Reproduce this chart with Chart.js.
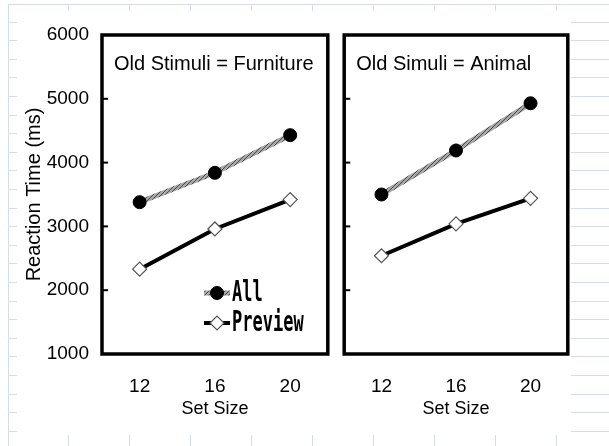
<!DOCTYPE html>
<html>
<head>
<meta charset="utf-8">
<script src="https://cdn.jsdelivr.net/npm/chart.js@4/dist/chart.umd.min.js"></script>
<style>
  html, body { margin: 0; padding: 0; background: #fff; }
  #page { position: relative; width: 609px; height: 446px; overflow: hidden; }
  .bg { position: absolute; }
  .vline { left: 8px; top: 4px; width: 1px; height: 442px; background: #d5dcea; }
  .hline { left: 8px; top: 4px; width: 601px; height: 1px; background: #d5dcea; }
  .ticksL { left: 8px; top: 4px; width: 9px; height: 442px;
    background: repeating-linear-gradient(to bottom, transparent 0 17.6px, #d5dcea 17.6px 18.6px); }
  .ticksT { left: 8px; top: 4px; width: 601px; height: 7px;
    background: repeating-linear-gradient(to right, transparent 0 60px, #d5dcea 60px 61px); }
  .ticksB { left: 8px; top: 435px; width: 601px; height: 11px;
    background: repeating-linear-gradient(to right, transparent 0 60px, #d5dcea 60px 61px); }
  .linesR { left: 571px; top: 4px; width: 38px; height: 442px;
    background: repeating-linear-gradient(to bottom, transparent 0 17.6px, #d5dcea 17.6px 18.6px); }
  .wrap { position: absolute; top: 0; height: 446px; }
</style>
</head>
<body>
<div id="page">
  <div class="bg vline"></div>
  <div class="bg hline"></div>
  <div class="bg ticksL"></div>
  <div class="bg ticksT"></div>
  <div class="bg ticksB"></div>
  <div class="bg linesR"></div>
  <div class="wrap" style="left:0;width:336px"><canvas id="left"></canvas></div>
  <div class="wrap" style="left:336px;width:240px"><canvas id="right"></canvas></div>
</div>
<script>
// data
const setSizes = [12, 16, 20];
const furnitureAll = [3380, 3840, 4430];
const furniturePreview = [2330, 2960, 3420];
const animalAll = [3500, 4190, 4930];
const animalPreview = [2540, 3040, 3440];
const yTicks = [1000, 2000, 3000, 4000, 5000, 6000];
const seriesNames = ['All', 'Preview'];
const panelTitles = ['Old Stimuli = Furniture', 'Old Simuli = Animal'];

Chart.defaults.font.family = '"Liberation Sans", Arial, sans-serif';
Chart.defaults.color = '#000';

// grey hatched stroke for the "All" series
const hatch = document.createElement('canvas');
hatch.width = 4; hatch.height = 4;
const hc = hatch.getContext('2d');
hc.fillStyle = '#a8a8a8';
hc.fillRect(0, 0, 4, 4);
hc.fillStyle = '#4a4a4a';
for (let i = 0; i < 4; i++) hc.fillRect(i, 3 - i, 1, 1);
const hatchPattern = hc.createPattern(hatch, 'repeat');

const toPoints = (vals) => setSizes.map((x, i) => ({x: x, y: vals[i]}));

// frame + inward ticks + panel title
const panelPlugin = {
  id: 'panel',
  afterDraw(chart, args, opts) {
    const ctx = chart.ctx;
    const a = chart.chartArea;
    const ys = chart.scales.y;
    ctx.save();
    ctx.strokeStyle = '#000';
    ctx.lineWidth = 2;
    ys.ticks.forEach(t => {
      const py = ys.getPixelForValue(t.value);
      ctx.beginPath();
      ctx.moveTo(a.left, py);
      ctx.lineTo(a.left + 6, py);
      ctx.stroke();
    });
    ctx.lineWidth = 3.5;
    ctx.strokeRect(a.left, a.top, a.right - a.left, a.bottom - a.top);
    ctx.fillStyle = '#000';
    ctx.font = '20px "Liberation Sans", Arial, sans-serif';
    ctx.textBaseline = 'middle';
    ctx.fillText(opts.text, a.left + 12, a.top + 29);
    ctx.restore();
  }
};

// legend drawn inside the plot frame
const innerLegend = {
  id: 'innerLegend',
  afterDraw(chart, args, opts) {
    if (!opts.show) return;
    const ctx = chart.ctx;
    const a = chart.chartArea;
    chart.data.datasets.forEach((ds, i) => {
      const y = a.bottom - 61 + i * 30;
      const x0 = a.left + 102, x1 = a.left + 128, xm = (x0 + x1) / 2;
      ctx.save();
      ctx.strokeStyle = ds.borderColor;
      ctx.lineWidth = ds.borderWidth;
      ctx.beginPath();
      ctx.moveTo(x0, y);
      ctx.lineTo(x1, y);
      ctx.stroke();
      ctx.fillStyle = ds.pointBackgroundColor;
      ctx.strokeStyle = ds.pointBorderColor;
      ctx.lineWidth = ds.pointBorderWidth;
      Chart.helpers.drawPoint(ctx, {
        pointStyle: ds.pointStyle, radius: ds.pointRadius, rotation: 0, borderWidth: ds.pointBorderWidth
      }, xm, y);
      ctx.translate(x1 + 2, y);
      ctx.scale(1, 1.7);
      ctx.fillStyle = '#000';
      ctx.font = 'bold 17px "DejaVu Sans Mono", monospace';
      ctx.textBaseline = 'middle';
      ctx.fillText(ds.label, 0, 0.5);
      ctx.restore();
    });
  }
};

function makePanel(id, allVals, previewVals, title, showY, yWidth, rightPad, legend) {
  return new Chart(document.getElementById(id), {
    type: 'line',
    data: {
      datasets: [{
        label: seriesNames[0],
        data: toPoints(allVals),
        borderColor: hatchPattern,
        borderWidth: 5,
        pointStyle: 'circle',
        pointRadius: 6.5,
        pointBackgroundColor: '#000',
        pointBorderColor: '#000',
        pointBorderWidth: 1,
        clip: false
      }, {
        label: seriesNames[1],
        data: toPoints(previewVals),
        borderColor: '#000',
        borderWidth: 4,
        pointStyle: 'rectRot',
        pointRadius: 7,
        pointBackgroundColor: '#fff',
        pointBorderColor: '#555',
        pointBorderWidth: 1.2,
        clip: false
      }]
    },
    options: {
      responsive: true,
      maintainAspectRatio: false,
      animation: false,
      layout: { padding: { left: 0, right: rightPad, top: 35, bottom: 0 } },
      plugins: {
        legend: { display: false },
        tooltip: { enabled: false },
        panel: { text: title },
        innerLegend: { show: legend }
      },
      scales: {
        x: {
          type: 'linear',
          min: 10,
          max: 22,
          afterBuildTicks: (s) => { s.ticks = setSizes.map(v => ({value: v})); },
          afterFit: (s) => { s.height = 92; },
          grid: { display: false, drawTicks: false },
          border: { display: false },
          ticks: { padding: 21, font: { size: 19 }, callback: (v) => String(v) },
          title: { display: true, text: 'Set Size', font: { size: 18 }, padding: { top: 0, bottom: 26 } }
        },
        y: {
          min: 1000,
          max: 6000,
          afterBuildTicks: (s) => { s.ticks = yTicks.map(v => ({value: v})); },
          afterFit: (s) => { s.width = yWidth; },
          grid: { display: false, drawTicks: false },
          border: { display: false },
          ticks: { display: showY, padding: 13, font: { size: 19 }, callback: (v) => String(v) },
          title: { display: showY, text: 'Reaction Time (ms)', font: { size: 20 }, padding: { top: 22, bottom: 0 } }
        }
      }
    },
    plugins: [panelPlugin, innerLegend]
  });
}

makePanel('left', furnitureAll, furniturePreview, panelTitles[0], true, 102, 4, true);
makePanel('right', animalAll, animalPreview, panelTitles[1], false, 6, 8, false);
</script>
</body>
</html>
